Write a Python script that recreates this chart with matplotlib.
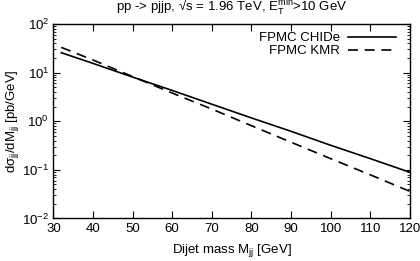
import numpy as np
import matplotlib.pyplot as plt
from matplotlib.ticker import LogLocator, NullFormatter

plt.rcParams['font.family'] = ['Liberation Sans', 'DejaVu Sans']
plt.rcParams['mathtext.fontset'] = 'custom'
plt.rcParams['mathtext.rm'] = 'Liberation Sans'
plt.rcParams['mathtext.it'] = 'Liberation Sans'

# dijet mass [GeV]
masa = [32, 40, 50, 60, 70, 80, 90, 100, 110, 120]
# dsigma/dM [pb/GeV]
chide = [25.7, 15.5, 8.1, 4.3, 2.24, 1.17, 0.62, 0.32, 0.17, 0.089]
kmr = [33.1, 18.2, 8.3, 3.8, 1.78, 0.81, 0.37, 0.17, 0.079, 0.036]

xticks = [30, 40, 50, 60, 70, 80, 90, 100, 110, 120]
yticks = [1e-2, 1e-1, 1e0, 1e1, 1e2]
ylabels = ['$10^{-2}$', '$10^{-1}$', '$10^{0}$', '$10^{1}$', '$10^{2}$']

fs = 9.5

fig = plt.figure(figsize=(4.2, 2.61), dpi=100)
ax = fig.add_axes([0.127, 0.163, 0.849, 0.745])

ax.plot(masa, chide, color='black', lw=1.2, label='FPMC CHIDe')
ax.plot(masa, kmr, color='black', lw=1.2, dashes=(6, 4), label='FPMC KMR')

ax.set_yscale('log')
ax.set_xlim(30, 120)
ax.set_ylim(1e-2, 1e2)
ax.set_xticks(xticks)
ax.set_xticklabels([str(t) for t in xticks], fontsize=fs)
ax.set_yticks(yticks)
ax.set_yticklabels(ylabels, fontsize=fs)
ax.yaxis.set_minor_locator(LogLocator(base=10, subs=np.arange(2, 10)))
ax.yaxis.set_minor_formatter(NullFormatter())
ax.tick_params(which='both', direction='in', top=True, right=True)
ax.tick_params(which='major', length=5, width=0.8, pad=3)
ax.tick_params(which='minor', length=2.5, width=0.6)
for s in ax.spines.values():
    s.set_linewidth(1.0)

ax.set_xlabel('Dijet mass M$_{\\mathrm{jj}}$ [GeV]', fontsize=fs, labelpad=5)
ax.set_ylabel('d$\\sigma_{\\mathrm{jj}}$/dM$_{\\mathrm{jj}}$ [pb/GeV]', fontsize=fs, labelpad=1)

fig.text(0.551, 0.968, 'pp -> pjjp, \u221as = 1.96 TeV, E$_{\\mathrm{T}}^{\\mathrm{min}}$>10 GeV',
         ha='center', va='center', fontsize=fs)

ax.legend(loc='upper right', bbox_to_anchor=(0.975, 0.985), frameon=False, fontsize=fs,
          markerfirst=False, handlelength=3.6, labelspacing=0.05, borderaxespad=0.0,
          handletextpad=0.6)

fig.savefig('out.png', dpi=100)
